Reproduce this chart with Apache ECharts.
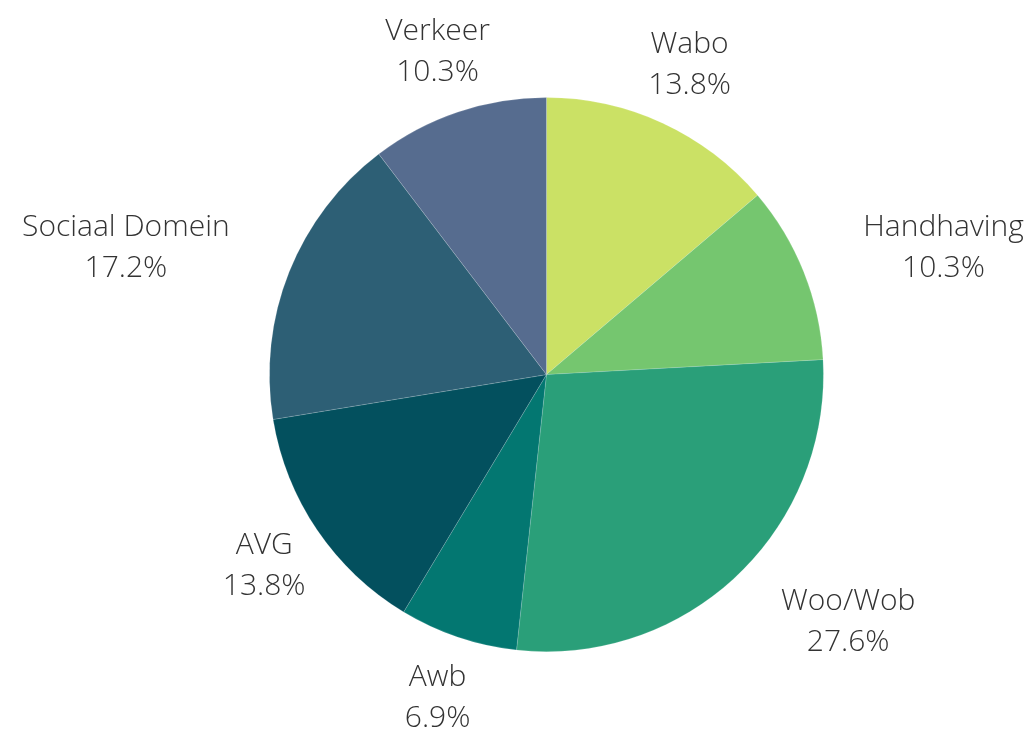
<!doctype html>
<html>
    <head>
        <meta charset="utf-8">
        <title>Verdeling onderwerpen</title>
        <style>
            html, body { margin: 0; padding: 0; background: #fff; }
            #main { width: 1033px; height: 736px; }
        </style>
    </head>
    <body>
        <div id="main"></div>
        <script src="https://cdn.jsdelivr.net/npm/echarts@6/dist/echarts.min.js"></script>
        <script>
            // onderwerpen, kloksgewijs vanaf 12 uur
            var categories = ['Wabo', 'Handhaving', 'Woo/Wob', 'Awb', 'AVG', 'Sociaal Domein', 'Verkeer'];
            var counts = [4, 3, 8, 2, 4, 5, 3];
            var colors = ['#cbe165', '#75c66f', '#2a9f79', '#037771', '#03505e', '#2d5f75', '#566c8f'];

            var total = counts.reduce(function (a, b) { return a + b; }, 0);

            var chart = echarts.init(document.getElementById('main'));

            var CX = 0.529, CY = 0.509; // centre as fraction of canvas
            var R = 277;
            var LABEL_R = 341;

            function midAngle(idx) {
                var before = 0;
                for (var i = 0; i < idx; i++) before += counts[i];
                return (before + counts[idx] / 2) / total * Math.PI * 2;
            }

            chart.setOption({
                animation: false,
                series: [{
                    type: 'pie',
                    center: [CX * 100 + '%', CY * 100 + '%'],
                    radius: [0, R],
                    startAngle: 90,
                    clockwise: true,
                    itemStyle: {
                        borderColor: 'rgba(255,255,255,0.3)',
                        borderWidth: 0.5
                    },
                    label: {
                        show: true,
                        position: 'outside',
                        fontFamily: 'Open Sans',
                        fontWeight: 300,
                        fontSize: 30,
                        lineHeight: 41,
                        color: '#333333',
                        align: 'center',
                        formatter: function (p) {
                            return p.name + '\n' + (p.value / total * 100).toFixed(1) + '%';
                        }
                    },
                    labelLine: { show: false },
                    emphasis: { disabled: true },
                    labelLayout: function (params) {
                        var a = midAngle(params.dataIndex);
                        var ux = Math.sin(a), uy = -Math.cos(a);
                        var cx = chart.getWidth() * CX, cy = chart.getHeight() * CY;
                        var w = params.labelRect.width / 2, h = params.labelRect.height / 2;
                        var x = ux * LABEL_R, y = uy * LABEL_R;
                        // nearest corner of the label box to the centre
                        var nx = x - (ux > 0 ? w : -w), ny = y - (uy > 0 ? h : -h);
                        if (Math.sqrt(nx * nx + ny * ny) < R) {
                            x += ux > 0 ? w : -w;
                        }
                        return {
                            x: cx + x,
                            y: cy + y,
                            align: 'center',
                            verticalAlign: 'middle'
                        };
                    },
                    data: categories.map(function (name, i) {
                        return { name: name, value: counts[i], itemStyle: { color: colors[i] } };
                    })
                }]
            });

            window.onresize = chart.resize;
        </script>
    </body>
</html>
